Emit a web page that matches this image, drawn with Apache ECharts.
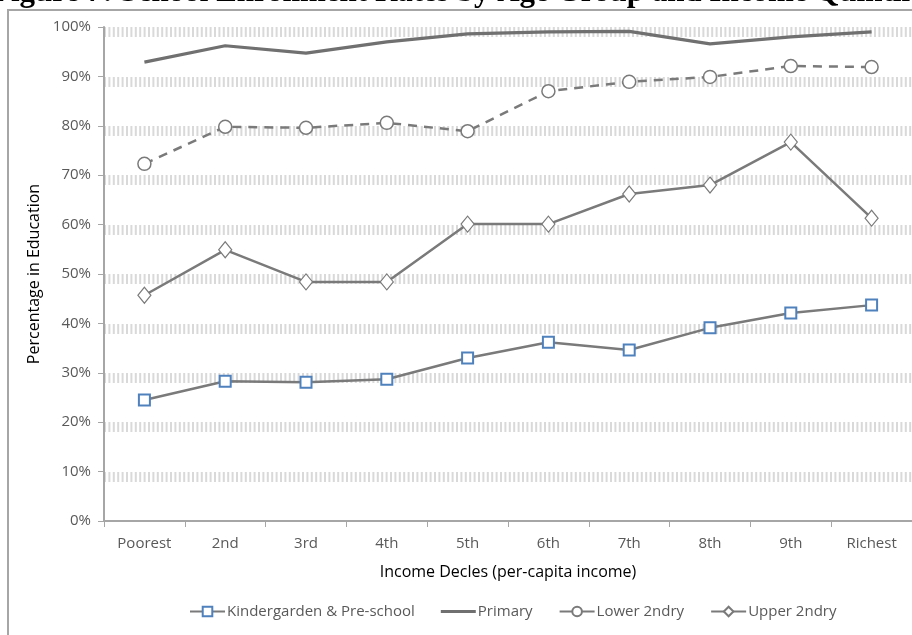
<!DOCTYPE html>
<html>
<head>
<meta charset="utf-8">
<style>
html,body{margin:0;padding:0;background:#fff;}
#chart{width:912px;height:635px;}
</style>
<script src="https://cdn.jsdelivr.net/npm/echarts@6/dist/echarts.min.js"></script>
</head>
<body>
<div id="chart"></div>
<script>
var categories = ['Poorest','2nd','3rd','4th','5th','6th','7th','8th','9th','Richest'];
var kindergarten = [24.5, 28.3, 28.1, 28.7, 33.0, 36.2, 34.6, 39.1, 42.1, 43.7];
var primary = [92.9, 96.2, 94.7, 97.0, 98.6, 99.0, 99.1, 96.6, 98.0, 99.0];
var lower2ndry = [72.3, 79.8, 79.6, 80.6, 78.9, 87.0, 88.9, 89.9, 92.1, 91.9];
var upper2ndry = [45.7, 54.9, 48.4, 48.4, 60.1, 60.1, 66.2, 68.0, 76.7, 61.3];
var seriesNames = ['Kindergarden & Pre-school','Primary','Lower 2ndry','Upper 2ndry'];

var FONT = 'Open Sans, sans-serif';
var chart = echarts.init(document.getElementById('chart'));
var gray = '#7a7a7a';

chart.setOption({
  animation: false,
  backgroundColor: '#fff',
  graphic: [
    {type:'rect', shape:{x:8, y:10, width:960, height:700}, style:{fill:'none', stroke:'#a6a6a6', lineWidth:2}, z:-1},
    {type:'text', x:-8, y:8, style:{text:'Figure 7: School Enrollment Rates by Age Group and Income Quintile', font:'bold 31px "Liberation Serif", serif', fill:'#000', verticalAlign:'bottom'}}
  ],
  grid: [
    {left:104, right:0, top:27, bottom:114, containLabel:false},
    {left:104, right:0, top:32, bottom:158.4, containLabel:false}
  ],
  legend: {
    left: 184, top: 599, itemWidth: 35, itemHeight: 12, itemGap: 26,
    textStyle:{color:'#595959', fontFamily:FONT, fontSize:15, padding:[0,0,0,-3]},
    data: [
      {name: seriesNames[0]},
      {name: seriesNames[1], icon: 'path://M0,0 L36,0 L36,3 L0,3 Z'},
      {name: seriesNames[2], lineStyle: {type: 'solid'}},
      {name: seriesNames[3]}
    ]
  },
  xAxis: [
    {type:'category', gridIndex:0, data:categories, boundaryGap:true,
     axisLine:{lineStyle:{color:'#a6a6a6', width:2}},
     axisTick:{show:true, length:6, lineStyle:{color:'#a6a6a6'}},
     axisLabel:{color:'#595959', fontFamily:FONT, fontSize:15, margin:15},
     name:'Income Decles (per-capita income)', nameLocation:'middle', nameGap:43,
     nameTextStyle:{color:'#000', fontFamily:FONT, fontSize:16}},
    {type:'category', gridIndex:1, data:categories, show:false}
  ],
  yAxis: [
    {type:'value', gridIndex:0, min:0, max:100, interval:10,
     axisLine:{show:true, lineStyle:{color:'#a6a6a6', width:2}},
     axisTick:{show:true, length:6, lineStyle:{color:'#a6a6a6'}},
     axisLabel:{color:'#595959', fontFamily:FONT, fontSize:15, margin:13, formatter:'{value}%'},
     splitLine:{show:false},
     name:'Percentage in Education', nameLocation:'middle', nameGap:60, nameRotate:90,
     nameTextStyle:{color:'#000', fontFamily:FONT, fontSize:16}},
    {type:'value', gridIndex:1, min:10, max:100, interval:10,
     axisLine:{show:false}, axisTick:{show:false}, axisLabel:{show:false},
     splitLine:{show:true, lineStyle:{color:'#d9d9d9', width:10, type:[2,2.4]}}}
  ],
  series: [
    {name:seriesNames[0], type:'line', data:kindergarten, symbol:'rect', symbolSize:11,
     lineStyle:{color:gray, width:2.5}, itemStyle:{color:'#fff', borderColor:'#4f81bd', borderWidth:2}, z:5},
    {name:seriesNames[1], type:'line', data:primary, symbol:'none', showSymbol:false,
     lineStyle:{color:'#707070', width:3.2}, itemStyle:{color:'#707070'}, z:4},
    {name:seriesNames[2], type:'line', data:lower2ndry, symbol:'circle', symbolSize:13,
     lineStyle:{color:gray, width:2.5, type:[9,7]}, itemStyle:{color:'#fff', borderColor:gray, borderWidth:1.5}, z:4},
    {name:seriesNames[3], type:'line', data:upper2ndry, symbol:'diamond', symbolSize:[13,16],
     lineStyle:{color:gray, width:2.5}, itemStyle:{color:'#fff', borderColor:gray, borderWidth:1.2}, z:4}
  ]
});
</script>
</body>
</html>
